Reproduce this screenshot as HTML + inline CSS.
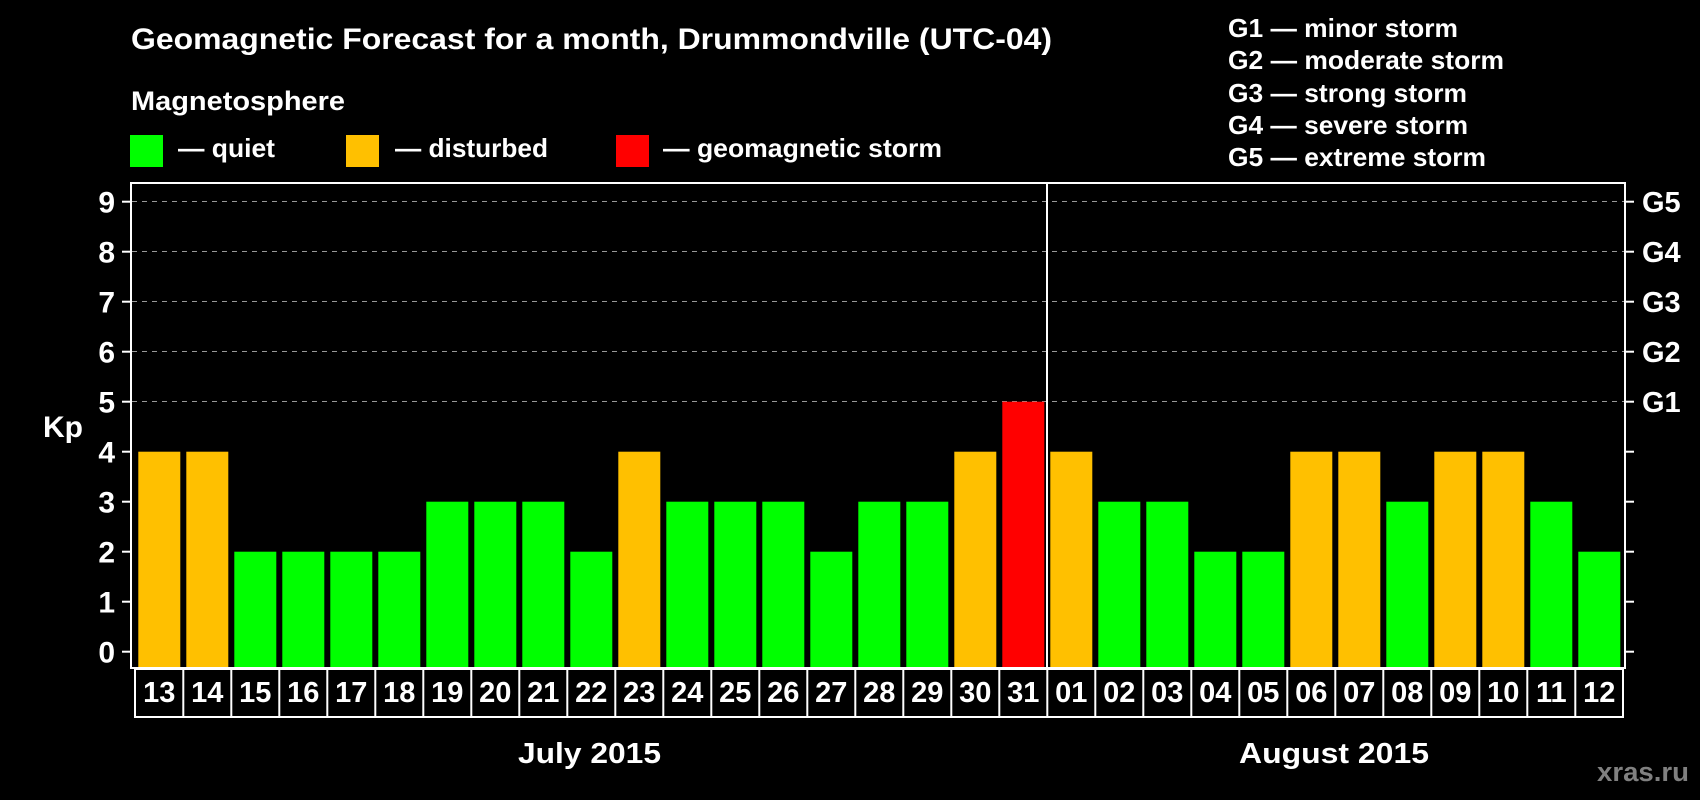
<!DOCTYPE html>
<html><head><meta charset="utf-8"><style>html,body{margin:0;padding:0;background:#000;}svg{display:block}</style></head>
<body>
<svg width="1700" height="800" xmlns="http://www.w3.org/2000/svg" font-family="Liberation Sans, sans-serif" font-weight="bold">
<rect width="1700" height="800" fill="#000"/>
<text x="131" y="49" font-size="30" fill="#fff" textLength="921" lengthAdjust="spacingAndGlyphs">Geomagnetic Forecast for a month, Drummondville (UTC-04)</text>
<text x="131" y="110" font-size="27" fill="#fff" textLength="214" lengthAdjust="spacingAndGlyphs">Magnetosphere</text>
<rect x="130" y="135" width="33" height="32" fill="#00ff00"/>
<text x="178" y="157" font-size="26" fill="#fff" textLength="97" lengthAdjust="spacingAndGlyphs">— quiet</text>
<rect x="346" y="135" width="33" height="32" fill="#ffc000"/>
<text x="395" y="157" font-size="26" fill="#fff" textLength="153" lengthAdjust="spacingAndGlyphs">— disturbed</text>
<rect x="616" y="135" width="33" height="32" fill="#ff0000"/>
<text x="663" y="157" font-size="26" fill="#fff" textLength="279" lengthAdjust="spacingAndGlyphs">— geomagnetic storm</text>
<g font-size="26" fill="#fff" lengthAdjust="spacingAndGlyphs">
<text x="1228" y="37" textLength="230" lengthAdjust="spacingAndGlyphs">G1 — minor storm</text>
<text x="1228" y="69" textLength="276" lengthAdjust="spacingAndGlyphs">G2 — moderate storm</text>
<text x="1228" y="102" textLength="239" lengthAdjust="spacingAndGlyphs">G3 — strong storm</text>
<text x="1228" y="134" textLength="240" lengthAdjust="spacingAndGlyphs">G4 — severe storm</text>
<text x="1228" y="166" textLength="258" lengthAdjust="spacingAndGlyphs">G5 — extreme storm</text>
</g>
<g stroke="#999" stroke-width="1" stroke-dasharray="5,5">
<line x1="132" x2="1624" y1="201.5" y2="201.5"/>
<line x1="132" x2="1624" y1="251.5" y2="251.5"/>
<line x1="132" x2="1624" y1="301.5" y2="301.5"/>
<line x1="132" x2="1624" y1="351.5" y2="351.5"/>
<line x1="132" x2="1624" y1="401.5" y2="401.5"/>
</g>
<g id="bars"></g>
<rect x="131" y="183" width="1494" height="485" fill="none" stroke="#fff" stroke-width="2"/>
<line x1="1047" x2="1047" y1="183" y2="668" stroke="#fff" stroke-width="2"/>
<g id="ticks" stroke="#fff" stroke-width="2"></g>
<g font-size="30" fill="#fff" text-anchor="end" id="ylab"></g>
<g font-size="29" fill="#fff" id="glab">
<text x="1642" y="212">G5</text><text x="1642" y="262">G4</text><text x="1642" y="312">G3</text><text x="1642" y="362">G2</text><text x="1642" y="412">G1</text>
</g>
<text x="43" y="437" font-size="30" fill="#fff">Kp</text>
<rect x="135" y="669" width="1488" height="48" fill="none" stroke="#fff" stroke-width="2"/>
<g id="xl" font-size="29" fill="#fff" text-anchor="middle"></g>
<text x="518" y="763" font-size="29" fill="#fff" textLength="143" lengthAdjust="spacingAndGlyphs">July 2015</text>
<text x="1239" y="763" font-size="29" fill="#fff" textLength="190" lengthAdjust="spacingAndGlyphs">August 2015</text>
<text x="1597" y="781" font-size="27" fill="#808080" textLength="92" lengthAdjust="spacingAndGlyphs">xras.ru</text>
<script>
var v=[4,4,2,2,2,2,3,3,3,2,4,3,3,3,2,3,3,4,5,4,3,3,2,2,4,4,3,4,4,3,2];
var d=["13","14","15","16","17","18","19","20","21","22","23","24","25","26","27","28","29","30","31","01","02","03","04","05","06","07","08","09","10","11","12"];
var ns="http://www.w3.org/2000/svg";
function el(p,t,a,txt){var e=document.createElementNS(ns,t);for(var k in a)e.setAttribute(k,a[k]);if(txt!==undefined)e.textContent=txt;document.getElementById(p).appendChild(e);}
for(var i=0;i<31;i++){var x=138.3+i*48;var c=v[i]>=5?"#ff0000":(v[i]==4?"#ffc000":"#00ff00");
var y0=651.7-v[i]*50;el("bars","rect",{x:x,y:y0,width:42,height:667-y0,fill:c});
el("xl","text",{x:x+21,y:702},d[i]);
if(i>0)el("ticks","line",{x1:x-3,x2:x-3,y1:669,y2:717});}
for(var k=0;k<=9;k++){var y=651.7-k*50;el("ticks","line",{x1:122,x2:131,y1:y,y2:y});el("ticks","line",{x1:1625,x2:1634,y1:y,y2:y});
el("ylab","text",{x:115,y:y+11},String(k));}
</script>
</svg>
</body></html>
